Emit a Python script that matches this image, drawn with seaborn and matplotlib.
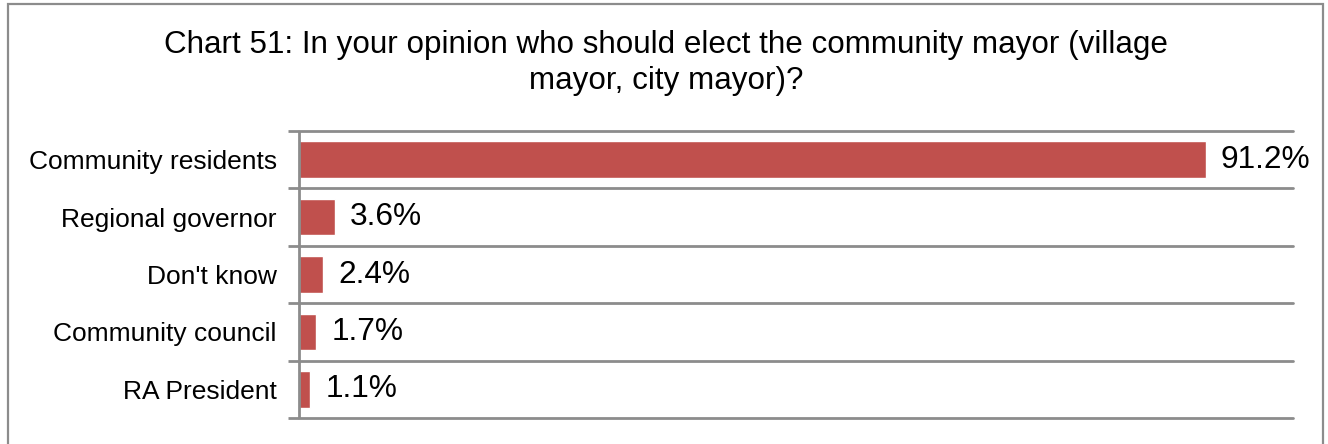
import matplotlib
matplotlib.use("Agg")
import matplotlib.pyplot as plt
import matplotlib.patches as mpatches
import seaborn as sns
import pandas as pd

categories = ["Community residents", "Regional governor", "Don't know",
              "Community council", "RA President"]
shares = [91.2, 3.6, 2.4, 1.7, 1.1]
value_labels = ["91.2%", "3.6%", "2.4%", "1.7%", "1.1%"]
title = "Chart 51: In your opinion who should elect the community mayor (village\nmayor, city mayor)?"

sns.set_theme(style="white")
plt.rcParams["font.family"] = ["Liberation Sans", "DejaVu Sans"]

W, H, DPI = 1328, 444, 100
fig = plt.figure(figsize=(W / DPI, H / DPI), dpi=DPI)
ax = fig.add_axes([299 / W, 1 - 418 / H, (1293 - 299) / W, (418 - 131) / H])

df = pd.DataFrame({"category": categories, "share": shares})
sns.barplot(data=df, x="share", y="category", color="#C0504D", saturation=1,
            width=0.64, ax=ax)

grey = "#8C8C8C"
ax.set_xlim(0, 100)
ax.set_ylim(len(categories) - 0.5, -0.5)
ax.set_xlabel("")
ax.set_ylabel("")
ax.set_xticks([])

# category boundaries carry the grid lines and the outward ticks
bounds = [i - 0.5 for i in range(len(categories) + 1)]
ax.set_yticks(bounds)
ax.set_yticklabels([""] * len(bounds))
ax.tick_params(axis="y", which="major", direction="out", length=8, width=2,
               color=grey, left=True)
ax.set_yticks(range(len(categories)), minor=True)
ax.set_yticklabels(categories, minor=True, fontsize=19, color="black")
ax.tick_params(axis="y", which="minor", length=0, pad=16)
ax.grid(axis="y", which="major", color=grey, linewidth=2)
for line in ax.get_ygridlines():
    line.set_clip_on(False)
ax.set_axisbelow(True)

for side in ["top", "right", "bottom"]:
    ax.spines[side].set_visible(False)
ax.spines["left"].set_color(grey)
ax.spines["left"].set_linewidth(2)
ax.spines["left"].set_capstyle("butt")

ax.bar_label(ax.containers[0], labels=value_labels, padding=11, fontsize=22.8,
             color="black")

fig.text(666 / W, 1 - 63 / H, title, ha="center", va="center", fontsize=22.6,
         color="black", linespacing=1.235)

frame = mpatches.Rectangle((7.5 / W, -0.1), (1322.5 - 7.5) / W, 1.1 - 4.5 / H,
                           transform=fig.transFigure, fill=False,
                           edgecolor=grey, linewidth=1.6, clip_on=False)
fig.patches.append(frame)

fig.savefig("out.png", dpi=DPI, facecolor="white")
